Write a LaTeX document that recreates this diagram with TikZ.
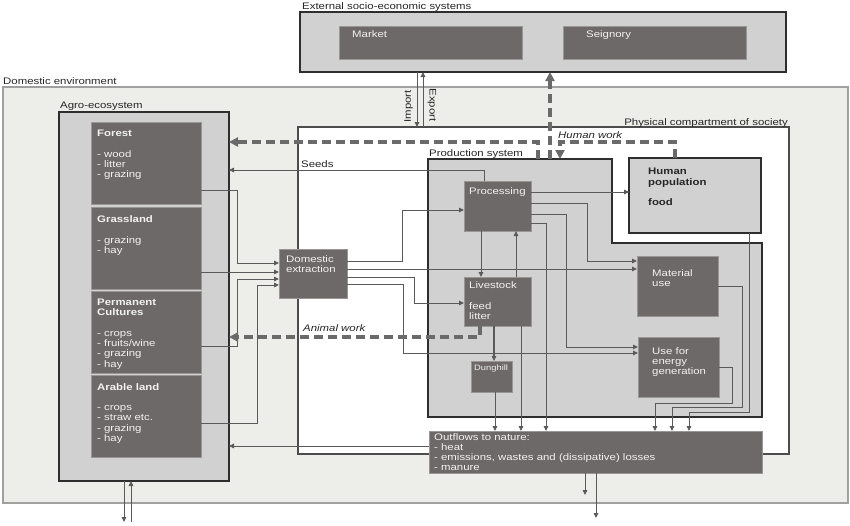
\documentclass[tikz,border=0pt]{standalone}
\usepackage{fontspec}
\setmainfont{Liberation Sans}[FakeStretch=1.2]
\usetikzlibrary{arrows.meta,calc}

\definecolor{envfill}{HTML}{EDEDEA}
\definecolor{envedge}{HTML}{A0A09E}
\definecolor{boxlight}{HTML}{D1D1D1}
\definecolor{boxdark}{HTML}{6D6968}
\definecolor{edgedark}{HTML}{2E2E2E}
\definecolor{linegray}{HTML}{5A5A5A}
\definecolor{dashgray}{HTML}{6A6A6A}

\begin{document}
\begin{tikzpicture}[
    x=1pt, y=-1pt,
    txt/.style={anchor=north west, inner sep=0pt, align=left, text=black!85, font={\fontsize{9.5}{10.3}\selectfont}},
    boxtxt/.style={txt, text=white!95!black},
    darkbox/.style={anchor=north west, inner sep=0pt, outer sep=0pt, fill=boxdark, draw=boxdark!70!white, line width=0.6pt},
    lightbox/.style={anchor=north west, inner sep=0pt, outer sep=0pt, fill=boxlight, draw=edgedark, line width=1.6pt},
    arrow/.style={draw=linegray, line width=0.9pt, -{Triangle[length=5pt,width=4.5pt]}},
    work/.style={draw=dashgray, line width=3.5pt, dash pattern=on 9pt off 5pt, -{Triangle[length=9pt,width=9pt]}}
]
    \useasboundingbox (0,0) rectangle (850,525);

    % Draw environment and external systems
    \node[anchor=north west, inner sep=0pt, outer sep=0pt, fill=envfill, draw=envedge, line width=1.6pt,
          minimum width=845pt, minimum height=416pt] (env) at (3,87) {};
    \node[txt] (env-t) at ($(env.north west)+(0,-9.5)$) {Domestic environment};

    \node[lightbox, minimum width=486pt, minimum height=60pt] (ext) at (300,12) {};
    \node[txt] (ext-t) at ($(ext.north west)+(2,-9.5)$) {External socio-economic systems};
    \node[darkbox, minimum width=183pt, minimum height=33pt] (market) at (339,26) {};
    \node[boxtxt] (market-t) at ($(market.north west)+(13,4)$) {Market};
    \node[darkbox, minimum width=183pt, minimum height=33pt] (seign) at (563,26) {};
    \node[boxtxt] (seign-t) at ($(seign.north west)+(23,4)$) {Seignory};

    % Draw agro-ecosystem
    \node[lightbox, minimum width=170pt, minimum height=369pt] (agro) at (59,112) {};
    \node[txt] (agro-t) at ($(agro.north west)+(1,-10)$) {Agro-ecosystem};
    \node[darkbox, minimum width=110pt, minimum height=82pt] (forest) at (91,122) {};
    \node[darkbox, minimum width=110pt, minimum height=82pt] (grass) at (91,207) {};
    \node[darkbox, minimum width=110pt, minimum height=82pt] (perm) at (91,291) {};
    \node[darkbox, minimum width=110pt, minimum height=82pt] (arable) at (91,375) {};
    \node[boxtxt] (forest-t) at ($(forest.north west)+(6,8)$) {\textbf{Forest}\\[10.3pt]- wood\\- litter\\- grazing};
    \node[boxtxt] (grass-t) at ($(grass.north west)+(6,8.5)$) {\textbf{Grassland}\\[10.3pt]- grazing\\- hay};
    \node[boxtxt] (perm-t) at ($(perm.north west)+(6,7.5)$) {\textbf{Permanent}\\\textbf{Cultures}\\[10.3pt]- crops\\- fruits/wine\\- grazing\\- hay};
    \node[boxtxt] (arable-t) at ($(arable.north west)+(6,8)$) {\textbf{Arable land}\\[10.3pt]- crops\\- straw etc.\\- grazing\\- hay};

    % Draw physical compartment and production system
    \node[anchor=north west, inner sep=0pt, outer sep=0pt, fill=white, draw=black!70, line width=1.8pt,
          minimum width=491pt, minimum height=327pt] (phys) at (298,127) {};
    \node[txt, anchor=north east] (phys-t) at ($(phys.north east)+(-1,-9)$) {Physical compartment of society};

    \coordinate (prod) at (428,159);
    \draw[fill=boxlight, draw=edgedark, line width=1.4pt]
        (prod) -- ++(184,0) -- ++(0,84) -- ++(150,0) -- ++(0,174) -- ++(-334,0) -- cycle;
    \node[txt] (prod-t) at ($(prod)+(1,-10)$) {Production system};

    \node[lightbox, line width=1.4pt, minimum width=132pt, minimum height=75pt] (human) at (629,158) {};
    \node[txt, font={\fontsize{9.5}{10.3}\selectfont\bfseries}] (human-t) at ($(human.north west)+(19,10)$) {Human\\population\\[10.3pt]food};

    \node[darkbox, minimum width=67pt, minimum height=50pt] (proc) at (464,181) {};
    \node[boxtxt] (proc-t) at ($(proc.north west)+(5,6)$) {Processing};
    \node[darkbox, minimum width=67pt, minimum height=49pt] (live) at (464,277) {};
    \node[boxtxt] (live-t) at ($(live.north west)+(5,4.5)$) {Livestock\\[10.3pt]feed\\litter};
    \node[darkbox, minimum width=41pt, minimum height=31pt] (dung) at (471,361) {};
    \node[boxtxt, font={\fontsize{7.8}{9}\selectfont}] (dung-t) at ($(dung.north west)+(3,4)$) {Dunghill};
    \node[darkbox, minimum width=81pt, minimum height=60pt] (mat) at (637,256) {};
    \node[boxtxt] (mat-t) at ($(mat.north west)+(15,13)$) {Material\\use};
    \node[darkbox, minimum width=81pt, minimum height=60pt] (energy) at (638,337) {};
    \node[boxtxt] (energy-t) at ($(energy.north west)+(14,10)$) {Use for\\energy\\generation};
    \node[darkbox, minimum width=68pt, minimum height=49pt] (dext) at (279,249) {};
    \node[boxtxt] (dext-t) at ($(dext.north west)+(7,6)$) {Domestic\\extraction};
    \node[darkbox, minimum width=333pt, minimum height=42pt] (outflow) at (429,431) {};
    \node[boxtxt] (outflow-t) at ($(outflow.north west)+(5,2)$) {Outflows to nature:\\- heat\\- emissions, wastes and (dissipative) losses\\- manure};

    % Draw labels of flows
    \node[txt] (seeds-t) at ($(phys.north west)+(3,33)$) {Seeds};
    \node[txt, font={\fontsize{9.5}{10.3}\selectfont\itshape}] (hwork-t) at (558,131) {Human work};
    \node[txt, font={\fontsize{9.5}{10.3}\selectfont\itshape}] (awork-t) at (303,324) {Animal work};
    \node[txt, anchor=center, rotate=90] (import-t) at (408.5,106.5) {Import};
    \node[txt, anchor=center, rotate=-90] (export-t) at (432,105) {Export};

    % Draw import and export
    \draw[arrow] ($(ext.south west)+(117,0)$) -- ($(phys.north west)+(119,0)$);
    \draw[arrow] ($(phys.north west)+(125,0)$) -- ($(ext.south west)+(123,0)$);

    % Draw flows into domestic extraction
    \draw[arrow] ($(forest.north east)+(0,68)$) -- ++(36,0) |- ($(dext.north west)+(0,14)$);
    \draw[arrow] ($(grass.north east)+(0,65)$) -- ($(dext.north west)+(0,23)$);
    \draw[arrow] ($(perm.north east)+(0,55)$) -- ++(36,0) |- ($(dext.north west)+(0,30)$);
    \draw[arrow] ($(arable.north east)+(0,48)$) -- ++(56,0) |- ($(dext.north west)+(0,36)$);

    % Draw flows out of domestic extraction
    \draw[arrow] ($(dext.north east)+(0,12)$) -- ++(55,0) |- ($(proc.north west)+(0,29)$);
    \draw[arrow] ($(dext.north east)+(0,20)$) -- ($(mat.north west)+(0,13)$);
    \draw[arrow] ($(dext.north east)+(0,28)$) -- ++(67,0) |- ($(live.north west)+(0,26)$);
    \draw[arrow] ($(dext.north east)+(0,35)$) -- ++(56,0) |- ($(energy.north west)+(0,16)$);

    % Draw flows out of processing and livestock
    \draw[arrow] ($(proc.north east)+(0,11)$) -- ($(human.north west)+(0,34)$);
    \draw[arrow] ($(proc.north east)+(0,22)$) -- ++(56,0) |- ($(mat.north west)+(0,5)$);
    \draw[arrow] ($(proc.north east)+(0,33)$) -- ++(35,0) |- ($(energy.north west)+(0,10)$);
    \draw[arrow] ($(proc.north east)+(0,42)$) -| ($(outflow.north west)+(117,0)$);
    \draw[arrow] ($(proc.south west)+(17,0)$) -- ($(live.north west)+(17,0)$);
    \draw[arrow] ($(live.north west)+(52,0)$) -- ($(proc.south west)+(52,0)$);
    \draw[arrow, line width=1.4pt] ($(live.south west)+(30,0)$) -- ($(dung.north west)+(23,0)$);
    \draw[arrow] ($(live.south west)+(57,0)$) -- ($(outflow.north west)+(92,0)$);
    \draw[arrow] ($(dung.south west)+(24,0)$) -- ($(outflow.north west)+(66,0)$);
    \draw[arrow] ($(proc.north west)+(20,0)$) |- ($(agro.north east)+(0,58)$);

    % Draw flows into outflows to nature
    \draw[arrow] ($(energy.north east)+(0,30)$) -- ++(13,0) -- ++(0,36) -| ($(outflow.north west)+(226,0)$);
    \draw[arrow] ($(mat.north east)+(0,30)$) -- ++(24,0) -- ++(0,121) -| ($(outflow.north west)+(243,0)$);
    \draw[arrow] ($(human.south east)+(-12,0)$) -- ++(0,179) -| ($(outflow.north west)+(260,0)$);
    \draw[arrow] ($(outflow.north west)+(0,15)$) -- ($(agro.north east)+(0,334)$);

    % Draw flows leaving the domestic environment
    \coordinate (drain) at (124,522);
    \coordinate (supply) at (131,522);
    \coordinate (sink-a) at (585,495);
    \coordinate (sink-b) at (596,518);
    \draw[arrow] ($(agro.south west)+(65,0)$) -- (drain);
    \draw[arrow] (supply) -- ($(agro.south west)+(72,0)$);
    \draw[arrow] ($(outflow.south west)+(156,0)$) -- (sink-a);
    \draw[arrow] ($(outflow.south west)+(167,0)$) -- (sink-b);

    % Draw work flows
    \draw[work] ($(prod)+(122,0)$) -- ($(ext.south west)+(250,0)$);
    \draw[work] ($(prod)+(110,0)$) |- ($(agro.north east)+(0,30)$);
    \draw[work] ($(human.north west)+(46,0)$) -- ++(0,-16) -| ($(prod)+(132,0)$);
    \draw[work] ($(live.south west)+(16,0)$) |- ($(agro.north east)+(0,225)$);

\end{tikzpicture}
\end{document}
